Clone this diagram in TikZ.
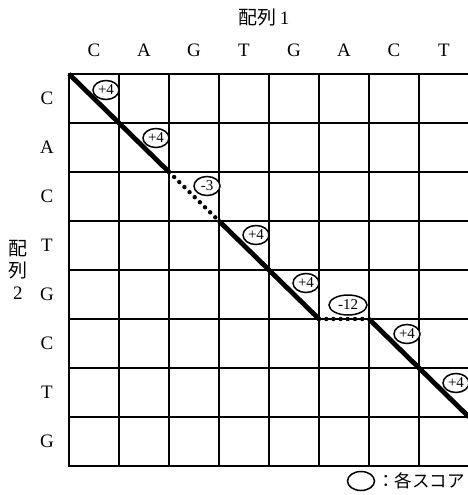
\documentclass[tikz,border=0pt]{standalone}
\usepackage{fontspec}
\setmainfont{Liberation Serif}
\newfontfamily\jpfont{Noto Sans CJK JP}
\usetikzlibrary{matrix,shapes.geometric,positioning}

\tikzset{
  score/.style={ellipse, draw, line width=1.5pt, fill=white, inner sep=0pt,
                minimum width=26pt, minimum height=19pt,
                font=\fontsize{15}{15}\selectfont},
  match/.style={line width=4.8pt},
  gap/.style={line width=4.4pt, line cap=round, dash pattern=on 0pt off 7.2pt},
  seqname/.style={font=\fontsize{19}{22}\selectfont}
}

\begin{document}
\begin{tikzpicture}[x=1pt, y=1pt]
    \useasboundingbox (0,0) rectangle (468,-495);
    \matrix (m) [matrix of nodes,
            nodes in empty cells,
            ampersand replacement=\&,
            anchor=north west, inner sep=0pt, outer sep=0pt,
            nodes={draw, line width=2pt, minimum width=50pt, minimum height=49pt,
                   anchor=center, inner sep=0pt, outer sep=0pt,
                   font=\fontsize{19}{19}\selectfont},
            row 1/.style={nodes={draw=none}},
            column 1/.style={nodes={draw=none, minimum width=46pt}},
            row sep=-2pt, column sep=-2pt] at (24,-26) {
      {} \& C \& A \& G \& T \& G \& A \& C \& T \\
      C  \&   \&   \&   \&   \&   \&   \&   \&   \\
      A  \&   \&   \&   \&   \&   \&   \&   \&   \\
      C  \&   \&   \&   \&   \&   \&   \&   \&   \\
      T  \&   \&   \&   \&   \&   \&   \&   \&   \\
      G  \&   \&   \&   \&   \&   \&   \&   \&   \\
      C  \&   \&   \&   \&   \&   \&   \&   \&   \\
      T  \&   \&   \&   \&   \&   \&   \&   \&   \\
      G  \&   \&   \&   \&   \&   \&   \&   \&   \\
    };

    \node[seqname] (seq1) at ([xshift=20pt,yshift=33pt]m-1-5.center) {{\jpfont 配列}\,1};
    \node[seqname, align=center] (seq2) at ([xshift=-29pt]m-5-1.south)
        {{\jpfont 配}\\{\jpfont 列}\\2};

    \draw[match] (m-2-2.north west) -- (m-2-2.south east) -- (m-3-3.south east);
    \draw[gap] (m-4-4.north west) -- (m-4-4.south east);
    \draw[match] (m-5-5.north west) -- (m-5-5.south east) -- (m-6-6.south east);
    \draw[gap] (m-6-6.south east) -- (m-6-7.south east);
    \draw[match] (m-7-8.north west) -- (m-7-8.south east) -- (m-8-9.south east);

    \node[score] (s1) at ([xshift=-13pt,yshift=-16pt]m-2-2.north east) {+4};
    \node[score] (s2) at ([xshift=-13pt,yshift=-15pt]m-3-3.north east) {+4};
    \node[score] (s3) at ([xshift=-12pt,yshift=-14pt]m-4-4.north east) {-3};
    \node[score] (s4) at ([xshift=-13pt,yshift=-14pt]m-5-5.north east) {+4};
    \node[score] (s5) at ([xshift=-13pt,yshift=-13pt]m-6-6.north east) {+4};
    \node[score, minimum width=38pt, minimum height=20pt] (s6)
        at ([xshift=4pt,yshift=14pt]m-6-7.south) {-12};
    \node[score] (s7) at ([xshift=-12pt,yshift=-15pt]m-7-8.north east) {+4};
    \node[score] (s8) at ([xshift=-13pt,yshift=-15pt]m-8-9.north east) {+4};

    \node[score, minimum width=27pt, minimum height=19pt] (key)
        at ([xshift=-8pt,yshift=-15pt]m-9-7.south east) {};
    \node[right=0pt of key, inner sep=2pt, font=\jpfont\fontsize{17.5}{17.5}\selectfont]
        (keytext) {：各スコア};
\end{tikzpicture}
\end{document}
